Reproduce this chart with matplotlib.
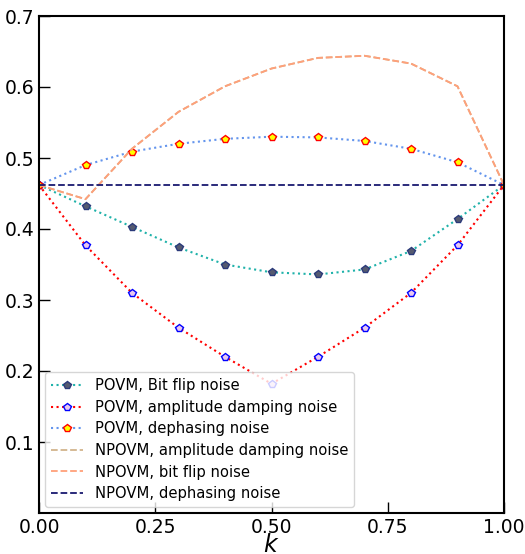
import matplotlib
matplotlib.use("Agg")
import matplotlib.pyplot as plt
import numpy as np

k = [0.0, 0.1, 0.2, 0.3, 0.4, 0.5, 0.6, 0.7, 0.8, 0.9, 1.0]
povm_bitflip = [0.462, 0.432, 0.403, 0.374, 0.350, 0.339, 0.336, 0.343, 0.369, 0.414, 0.462]
povm_amp = [0.462, 0.377, 0.310, 0.261, 0.220, 0.182, 0.220, 0.261, 0.310, 0.377, 0.462]
povm_deph = [0.462, 0.490, 0.509, 0.520, 0.527, 0.530, 0.529, 0.524, 0.513, 0.494, 0.462]
npovm_amp = [0.462, 0.442, 0.513, 0.565, 0.601, 0.626, 0.641, 0.644, 0.633, 0.601, 0.462]
npovm_bitflip = [0.462, 0.442, 0.513, 0.565, 0.601, 0.626, 0.641, 0.644, 0.633, 0.601, 0.462]
npovm_deph = [0.462] * 11

fig = plt.figure(figsize=(5.25, 5.54), dpi=100)
ax = fig.add_axes([39/525, 1 - 513/554, 465/525, 497/554])

ax.plot(k, povm_bitflip, ':', color='lightseagreen', lw=1.5, marker='p', ms=6,
        mfc='#555a70', mec='#2b3a7a', label='POVM, Bit flip noise')
ax.plot(k, povm_amp, ':', color='red', lw=1.5, marker='p', ms=6,
        mfc='#e8c8f0', mec='blue', label='POVM, amplitude damping noise')
ax.plot(k, povm_deph, ':', color='cornflowerblue', lw=1.5, marker='p', ms=6,
        mfc='yellow', mec='red', label='POVM, dephasing noise')
ax.plot(k, npovm_amp, '--', color='tan', lw=1.3, label='NPOVM, amplitude damping noise')
ax.plot(k, npovm_bitflip, '--', color='lightsalmon', lw=1.3, label='NPOVM, bit flip noise')
ax.plot(k, npovm_deph, '--', color='midnightblue', lw=1.3, label='NPOVM, dephasing noise')

ax.set_xlim(0, 1)
ax.set_ylim(0, 0.7)
ax.set_xticks([0, 0.25, 0.5, 0.75, 1.0])
ax.set_xticklabels(['0.00', '0.25', '0.50', '0.75', '1.00'])
ax.set_yticks([0.1, 0.2, 0.3, 0.4, 0.5, 0.6, 0.7])
ax.set_yticklabels(['0.1', '0.2', '0.3', '0.4', '0.5', '0.6', '0.7'])
ax.tick_params(direction='in', labelsize=13.5, length=8, width=1)
for s in ax.spines.values():
    s.set_linewidth(1.5)
ax.set_xlabel('$k$', fontsize=17, labelpad=-3)
ax.legend(loc='lower left', fontsize=10.6, handlelength=2.2, borderaxespad=0.4,
          handletextpad=0.8, labelspacing=0.45)

fig.savefig('out.png', dpi=100)
